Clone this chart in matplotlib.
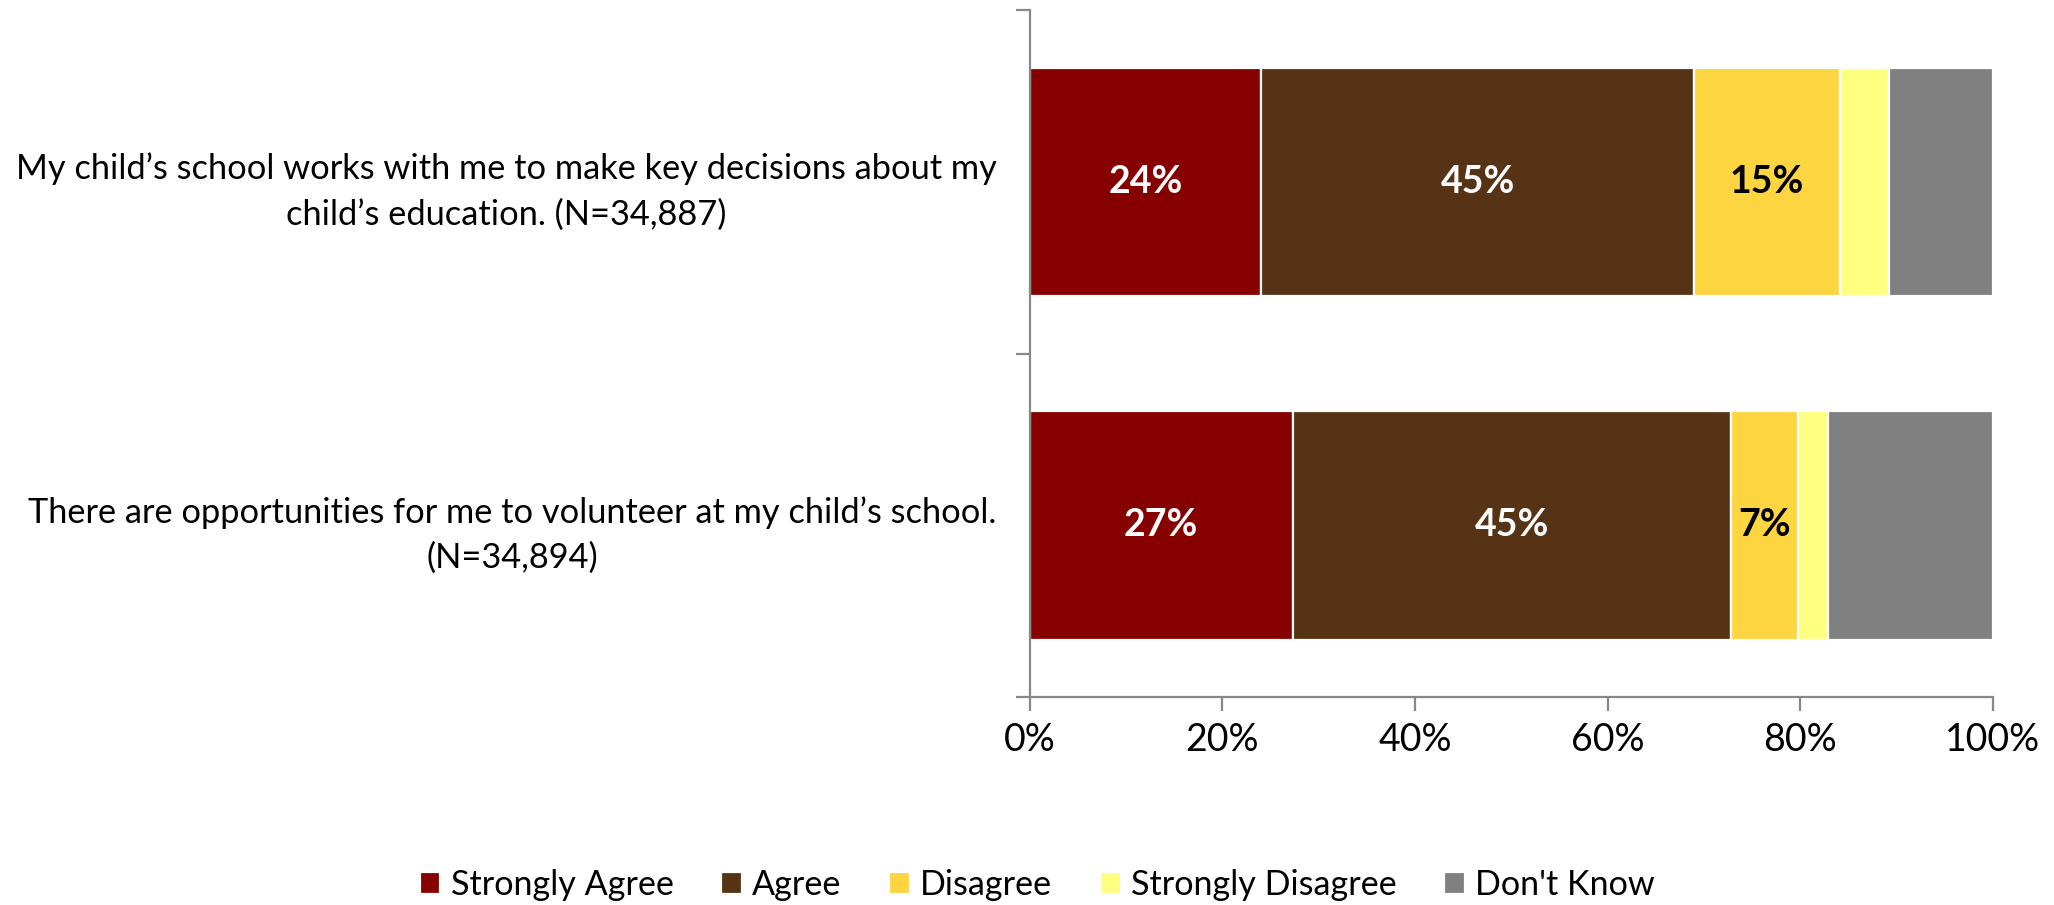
import matplotlib
matplotlib.use("Agg")
from matplotlib import pyplot as plt
import numpy as np

plt.rcParams['font.family'] = ['Lato', 'DejaVu Sans']

preguntas = [
    "My child\u2019s school works with me to make key decisions about my\nchild\u2019s education. (N=34,887)",
    "There are opportunities for me to volunteer at my child\u2019s school.\n(N=34,894)",
]
respuestas = ["Strongly Agree", "Agree", "Disagree", "Strongly Disagree", "Don't Know"]
colores = ["#860000", "#573315", "#FCD540", "#FFFF80", "#808080"]

strongly_agree = [24.0, 27.3]
agree = [45.0, 45.5]
disagree = [15.1, 7.0]
strongly_disagree = [5.1, 3.1]
dont_know = [10.8, 17.1]

etiquetas = {
    "Strongly Agree": ["24%", "27%"],
    "Agree": ["45%", "45%"],
    "Disagree": ["15%", "7%"],
}
color_texto = {"Strongly Agree": "white", "Agree": "white", "Disagree": "black"}

series = [strongly_agree, agree, disagree, strongly_disagree, dont_know]

fig = plt.figure(figsize=(10.27, 4.525), dpi=200)
ax = fig.add_axes([0.5014, 0.2298, 0.9701 - 0.5014, 0.9884 - 0.2298])

y = np.arange(len(preguntas))
izq = np.zeros(len(preguntas))
for nombre, vals, col in zip(respuestas, series, colores):
    barras = ax.barh(y, vals, left=izq, height=0.665, color=col,
                     edgecolor="white", linewidth=0.8, label=nombre)
    if nombre in etiquetas:
        ax.bar_label(barras, labels=etiquetas[nombre], label_type="center",
                     color=color_texto[nombre], fontsize=13.5, fontweight="bold")
    izq += np.array(vals)

ax.set_xlim(0, 100)
ax.set_ylim(1.5, -0.5)

ax.set_xticks(range(0, 101, 20))
ax.set_xticklabels([f"{v}%" for v in range(0, 101, 20)], fontsize=13.5)
ax.set_yticks([-0.5, 0.5, 1.5])
ax.set_yticklabels([])
ax.set_yticks(y, minor=True)
ax.set_yticklabels(preguntas, minor=True, fontsize=12.4, multialignment="center",
                   linespacing=1.5)
ax.tick_params(axis="y", which="minor", length=0, pad=12)
ax.tick_params(axis="y", which="major", length=5, color="#888888", width=0.8)
ax.tick_params(axis="x", length=5, color="#888888", width=0.8, pad=4)

for lado in ["top", "right"]:
    ax.spines[lado].set_visible(False)
for lado in ["left", "bottom"]:
    ax.spines[lado].set_color("#888888")
    ax.spines[lado].set_linewidth(0.8)

fig.legend(loc="center", bbox_to_anchor=(0.505, 0.022), ncol=5, frameon=False,
           fontsize=12.3, handlelength=0.6, handleheight=0.6, handletextpad=0.3,
           columnspacing=1.4, borderaxespad=0)

fig.savefig("out.png", dpi=200)
